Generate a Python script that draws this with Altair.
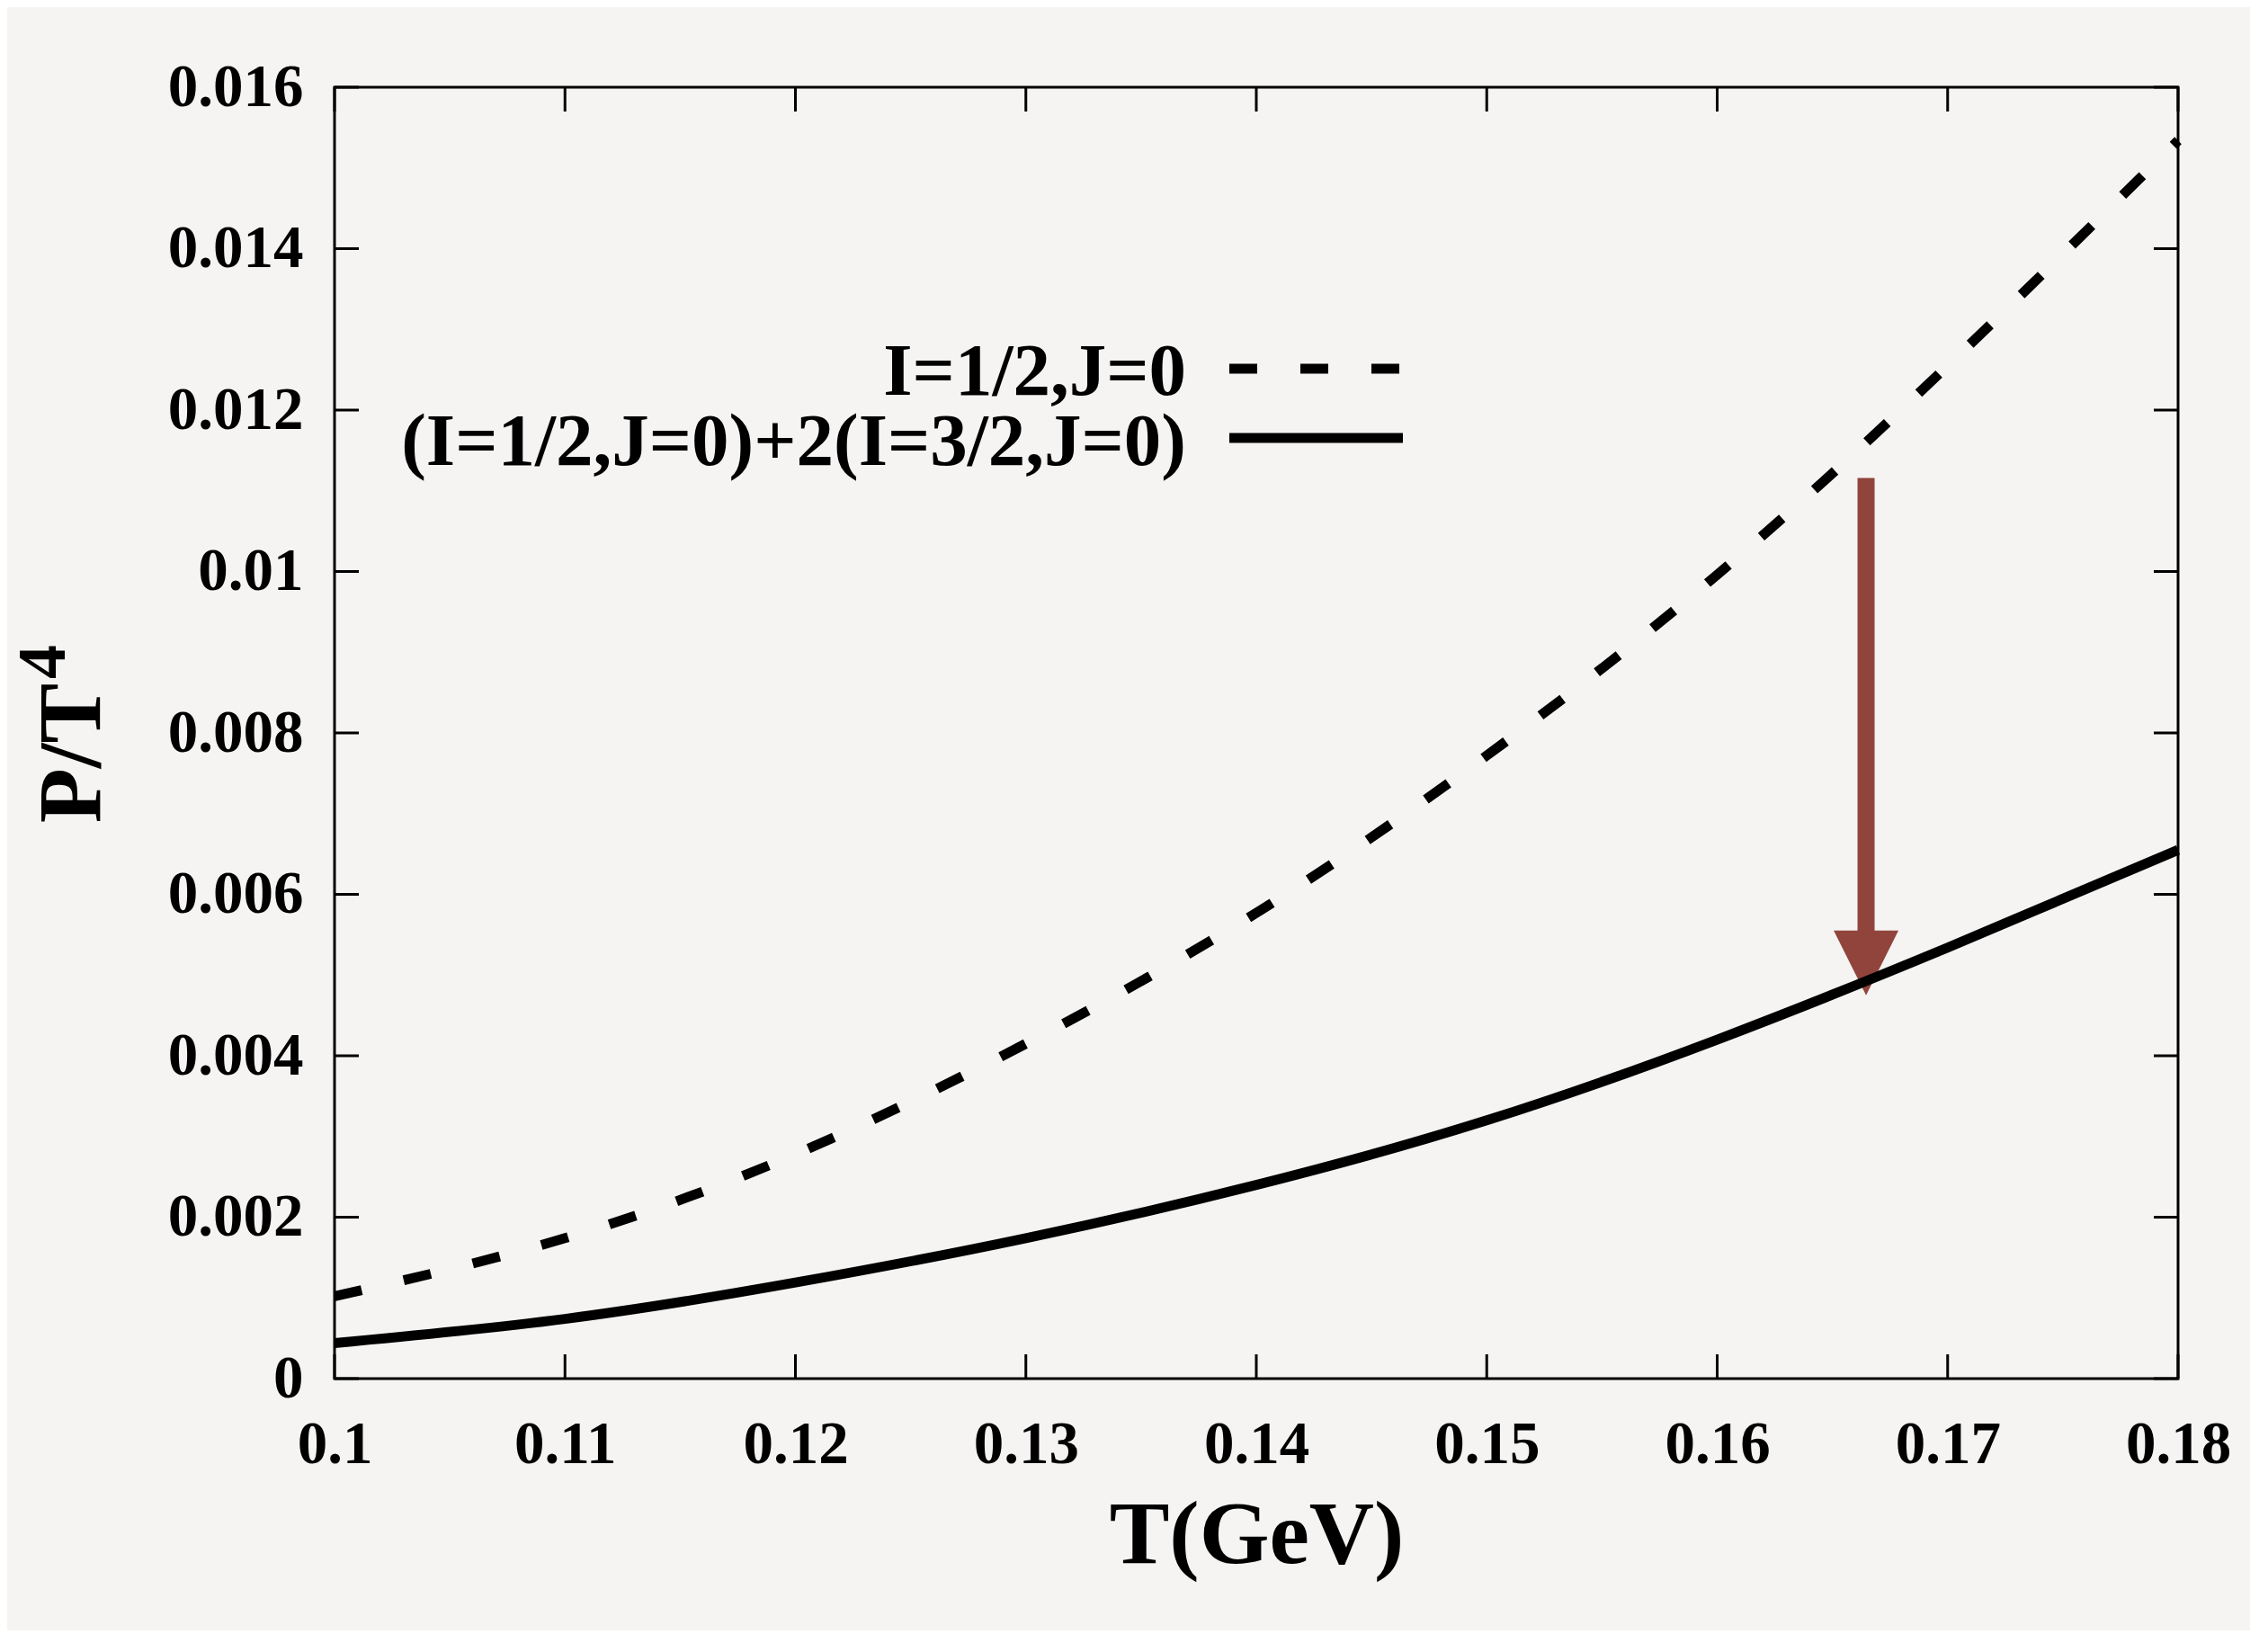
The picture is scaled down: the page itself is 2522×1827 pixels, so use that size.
import altair as alt
import pandas as pd

# ---- data ----
T = [0.10, 0.11, 0.12, 0.13, 0.14, 0.15, 0.16, 0.17, 0.18]
p_half = [0.00102, 0.00174, 0.00278, 0.00415, 0.00577, 0.00772, 0.00996, 0.01255, 0.01534]
p_sum = [0.00044, 0.00074, 0.00119, 0.00174, 0.00240, 0.00320, 0.00420, 0.00534, 0.00655]

x_ticks = [0.10, 0.11, 0.12, 0.13, 0.14, 0.15, 0.16, 0.17, 0.18]
y_ticks = [0.0, 0.002, 0.004, 0.006, 0.008, 0.010, 0.012, 0.014, 0.016]

legend_labels = ["I=1/2,J=0", "(I=1/2,J=0)+2(I=3/2,J=0)"]

arrow_T = [0.16646]
arrow_top = [0.01116]
arrow_base = [0.00545]
arrow_head = [0.00515]

W, H = 2050, 1436
FONT = "Liberation Serif"
BG = "#f5f4f2"
ARROW = "#91443c"
TICK = 27
LW = 11

xscale = alt.Scale(domain=[0.1, 0.18], nice=False, zero=False)
yscale = alt.Scale(domain=[0.0, 0.016], nice=False, zero=False)

df_half = pd.DataFrame({"T": T, "P": p_half})
df_sum = pd.DataFrame({"T": T, "P": p_sum})

x_axis = alt.Axis(
    values=x_ticks, format=".2~f", title="T(GeV)", grid=False, domain=False,
    ticks=False, tickSize=0, labelFont=FONT, labelFontSize=67, labelFontWeight="bold",
    labelColor="black", labelPadding=93, labelBaseline="alphabetic", labelFlush=False,
    labelOverlap=False, titleFont=FONT, titleFontSize=100, titleFontWeight="bold",
    titleColor="black", titleBaseline="alphabetic", titleY=204, titlePadding=0,
)
y_axis = alt.Axis(
    values=y_ticks, format=".3~f", title="P/T", grid=False, domain=False,
    ticks=False, tickSize=0, labelFont=FONT, labelFontSize=67, labelFontWeight="bold",
    labelColor="black", labelPadding=35, labelFlush=False, labelOverlap=False,
    titleFont=FONT, titleFontSize=100, titleFontWeight="bold", titleColor="black",
    titleAngle=270, titleAlign="center", titleBaseline="alphabetic",
    titleX=-262, titleY=740,
)


def X(field):
    return alt.X(field, type="quantitative", scale=xscale, axis=x_axis)


def Y(field):
    return alt.Y(field, type="quantitative", scale=yscale, axis=y_axis)


# arrow
shaft = alt.Chart(pd.DataFrame({"T": arrow_T, "P": arrow_top, "P2": arrow_base})).mark_rule(
    color=ARROW, strokeWidth=19
).encode(x=X("T"), y=Y("P"), y2="P2:Q")
head = alt.Chart(pd.DataFrame({"T": arrow_T, "P": arrow_head})).mark_point(
    shape="M-1,-1L1,-1L0,1Z", filled=True, size=5184, color=ARROW, opacity=1, strokeWidth=0
).encode(x=X("T"), y=Y("P"))

dashed = alt.Chart(df_half).mark_line(
    color="black", strokeWidth=LW, strokeDash=[31, 48], interpolate="natural"
).encode(x=X("T"), y=Y("P"))
solid = alt.Chart(df_sum).mark_line(
    color="black", strokeWidth=LW, interpolate="natural"
).encode(x=X("T"), y=Y("P"))

# inward ticks on all four sides
df_xt = pd.DataFrame({"T": x_ticks})
df_yt = pd.DataFrame({"P": y_ticks})
xt_bottom = alt.Chart(df_xt).mark_rule(color="black", strokeWidth=3).encode(
    x=X("T"), y=alt.value(H), y2=alt.value(H - TICK))
xt_top = alt.Chart(df_xt).mark_rule(color="black", strokeWidth=3).encode(
    x=X("T"), y=alt.value(0), y2=alt.value(TICK))
yt_left = alt.Chart(df_yt).mark_rule(color="black", strokeWidth=3).encode(
    y=Y("P"), x=alt.value(0), x2=alt.value(TICK))
yt_right = alt.Chart(df_yt).mark_rule(color="black", strokeWidth=3).encode(
    y=Y("P"), x=alt.value(W - TICK), x2=alt.value(W))

# superscript of the y title
sup = alt.Chart(pd.DataFrame({"s": ["4"]})).mark_text(
    font=FONT, fontSize=76, fontWeight="bold", color="black", angle=270,
    align="left", baseline="alphabetic"
).encode(text="s:N", x=alt.value(-300), y=alt.value(658))

# legend (gnuplot style: label left, sample right)
leg_text1 = alt.Chart(pd.DataFrame({"label": [legend_labels[0]]})).mark_text(
    font=FONT, fontSize=83, fontWeight="bold", color="black", align="right", baseline="middle"
).encode(text="label:N", x=alt.value(947), y=alt.value(317))
leg_text2 = alt.Chart(pd.DataFrame({"label": [legend_labels[1]]})).mark_text(
    font=FONT, fontSize=83, fontWeight="bold", color="black", align="right", baseline="middle"
).encode(text="label:N", x=alt.value(947), y=alt.value(395))
leg_line1 = alt.Chart(pd.DataFrame({"label": [legend_labels[0]]})).mark_rule(
    color="black", strokeWidth=LW, strokeDash=[31, 48]
).encode(x=alt.value(995), x2=alt.value(1188), y=alt.value(313))
leg_line2 = alt.Chart(pd.DataFrame({"label": [legend_labels[1]]})).mark_rule(
    color="black", strokeWidth=LW
).encode(x=alt.value(995), x2=alt.value(1188), y=alt.value(390))

chart = alt.layer(
    dashed, shaft, head, solid, xt_bottom, xt_top, yt_left, yt_right,
    sup, leg_text1, leg_text2, leg_line1, leg_line2
).properties(
    width=W, height=H,
    background=BG,
    padding={"left": 364, "top": 89, "right": 80, "bottom": 280},
    autosize=alt.AutoSizeParams(type="none"),
).configure_view(
    stroke="black", strokeWidth=3, fill=BG
)

chart.save("out.html", embed_options={"renderer": "svg", "actions": False})
